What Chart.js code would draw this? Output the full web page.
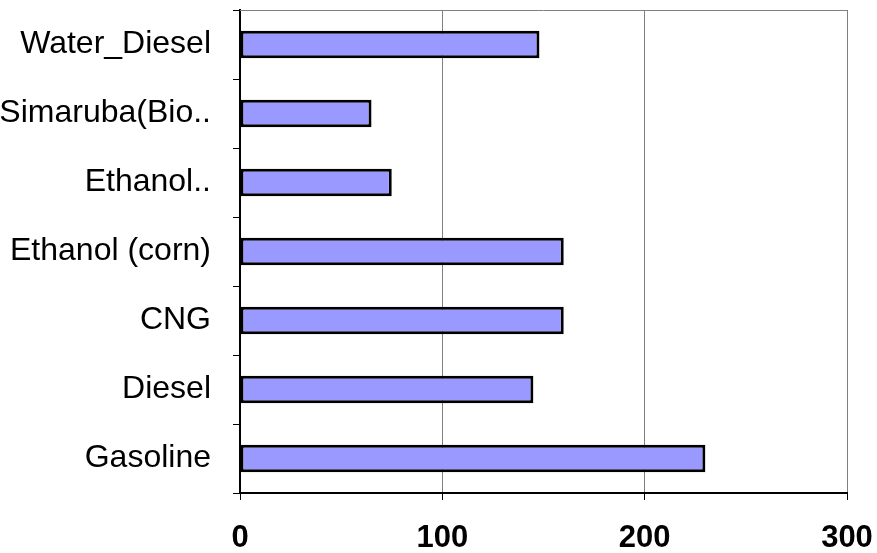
<!DOCTYPE html>
<html>
<head>
<meta charset="utf-8">
<script src="https://cdn.jsdelivr.net/npm/chart.js@4/dist/chart.umd.min.js"></script>
<style>
html,body{margin:0;padding:0;background:#fff;}
#wrap{width:877px;height:553px;position:relative;}
</style>
</head>
<body>
<div id="wrap"><canvas id="c" width="877" height="553"></canvas></div>
<script>
const categories = ["Water_Diesel", "Simaruba(Bio..", "Ethanol..", "Ethanol (corn)", "CNG", "Diesel", "Gasoline"];
const values = [148, 65, 75, 160, 160, 145, 230];
const xTicks = [0, 100, 200, 300];

const FONT = "'Liberation Sans', Arial, sans-serif";

const topBorder = {
  id: 'topBorder',
  beforeDatasetsDraw(chart) {
    const a = chart.chartArea, ctx = chart.ctx;
    ctx.save();
    ctx.strokeStyle = '#808080';
    ctx.lineWidth = 1;
    ctx.beginPath();
    ctx.moveTo(a.left, a.top + 0.5);
    ctx.lineTo(a.right, a.top + 0.5);
    ctx.stroke();
    ctx.restore();
  }
};

new Chart(document.getElementById('c'), {
  type: 'bar',
  data: {
    labels: categories,
    datasets: [{
      data: values,
      backgroundColor: '#9999FF',
      borderColor: '#000000',
      borderWidth: 3,
      borderSkipped: false,
      barPercentage: 0.4,
      categoryPercentage: 1.0
    }]
  },
  plugins: [topBorder],
  options: {
    indexAxis: 'y',
    responsive: false,
    animation: false,
    devicePixelRatio: 1,
    layout: { padding: { top: 10, right: 30, left: 0, bottom: 0 } },
    plugins: { legend: { display: false }, tooltip: { enabled: false } },
    scales: {
      x: {
        type: 'linear',
        position: 'bottom',
        min: xTicks[0],
        max: xTicks[xTicks.length - 1],
        afterBuildTicks: (axis) => { axis.ticks = xTicks.map(v => ({ value: v })); },
        grid: { color: '#808080', lineWidth: 1, tickColor: '#000000', tickLength: 7, drawTicks: true },
        border: { color: '#000000', width: 2 },
        ticks: { color: '#000000', font: { family: FONT, size: 31, weight: 'bold' }, padding: 20, maxRotation: 0 },
        afterFit: (axis) => { axis.height = 60; axis.paddingLeft = 0; axis.paddingRight = 0; }
      },
      y: {
        type: 'category',
        offset: true,
        grid: { drawOnChartArea: false, drawTicks: true, tickLength: 7, color: '#000000', offset: true },
        border: { color: '#000000', width: 2 },
        ticks: { color: '#000000', font: { family: FONT, size: 32 }, padding: 22, autoSkip: false },
        afterFit: (axis) => { axis.width = 240; axis.paddingTop = 0; axis.paddingBottom = 0; }
      }
    }
  }
});
</script>
</body>
</html>
